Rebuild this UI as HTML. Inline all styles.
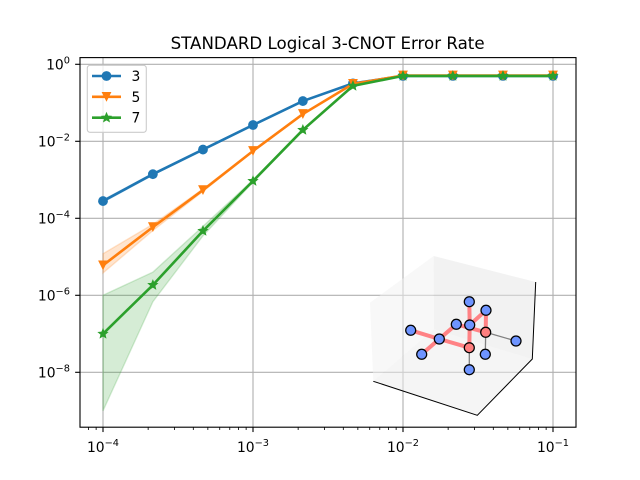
<!DOCTYPE html>
<html>
<head>
<meta charset="utf-8">
<title>STANDARD Logical 3-CNOT Error Rate</title>
<style>
html,body{margin:0;padding:0;background:#fff;}
svg{display:block;font-family:"DejaVu Sans","Liberation Sans",sans-serif;}
</style>
</head>
<body>
<svg id="chart" width="640" height="480" viewBox="0 0 640 480" xmlns="http://www.w3.org/2000/svg">
  <rect x="0" y="0" width="640" height="480" fill="#fff"/>
  <text x="327.6" y="49" font-size="16.67" text-anchor="middle" fill="#000">STANDARD Logical 3-CNOT Error Rate</text>
  <g id="grid"></g>
  <g id="series"></g>
  <rect x="80" y="57.6" width="496" height="369.6" fill="none" stroke="#000" stroke-width="1.11"/>
  <g id="ticks"></g>
  <g id="legend"></g>

  <g>
    <polygon points="370,302.7 433.7,256 434,329.3 373.3,381.3" fill="rgb(242,242,242)" fill-opacity="0.5"/>
    <polygon points="433.7,256 535.7,282 532.3,359 434,329.3" fill="rgb(230,230,230)" fill-opacity="0.5"/>
    <polygon points="373.3,381.3 434,329.3 532.3,359 477.3,415.3" fill="rgb(236,236,236)" fill-opacity="0.5"/>
    <polyline points="373.3,381.3 477.3,415.3 532.3,359 535.7,282" fill="none" stroke="#000" stroke-width="1"/>
    <g stroke="#808080" stroke-width="1.3" fill="none">
      <line x1="485.7" y1="332.3" x2="516" y2="341"/>
      <line x1="485.7" y1="332.3" x2="485.3" y2="354.3"/>
      <line x1="469.3" y1="347.7" x2="469.3" y2="369.7"/>
    </g>
    <g stroke="#ff8285" stroke-width="4" fill="none">
      <line x1="410.7" y1="330.3" x2="439.3" y2="339"/>
      <line x1="439.3" y1="339" x2="469.3" y2="347.7"/>
      <line x1="421.7" y1="354.3" x2="439.3" y2="339"/>
      <line x1="439.3" y1="339" x2="456.3" y2="324.3"/>
      <line x1="456.3" y1="324.3" x2="485.7" y2="332.3"/>
      <line x1="469.3" y1="301.7" x2="469.7" y2="325"/>
      <line x1="469.7" y1="325" x2="469.3" y2="347.7"/>
      <line x1="469.7" y1="325" x2="486" y2="310.3"/>
      <line x1="486" y1="310.3" x2="485.7" y2="332.3"/>
    </g>
    <g stroke="#000" stroke-width="1.25" fill="#6e94ff">
      <circle cx="469.3" cy="369.7" r="5"/>
      <circle cx="485.3" cy="354.3" r="5"/>
      <circle cx="516" cy="341" r="5"/>
      <circle cx="421.7" cy="354.3" r="5"/>
      <circle cx="410.7" cy="330.3" r="5"/>
      <circle cx="439.3" cy="339" r="5"/>
      <circle cx="456.3" cy="324.3" r="5"/>
      <circle cx="469.3" cy="301.7" r="5"/>
      <circle cx="486" cy="310.3" r="5"/>
      <circle cx="469.3" cy="347.7" r="5" fill="#ff7f7f"/>
      <circle cx="469.7" cy="325" r="5"/>
      <circle cx="485.7" cy="332.3" r="5" fill="#ff7f7f"/>
    </g>
  </g>
</svg>
<script>
const errorRates = [1e-4, 2.15e-4, 4.64e-4, 1e-3, 2.15e-3, 4.64e-3, 1e-2, 2.15e-2, 4.64e-2, 1e-1];
const seriesLabels = ['3', '5', '7'];
const values3 = [2.8e-4, 1.4e-3, 6.1e-3, 2.65e-2, 0.111, 0.32, 0.5, 0.5, 0.5, 0.5];
const lower3 = [2.6e-4, 1.33e-3, 5.9e-3, 2.6e-2, 0.109, 0.31, 0.49, 0.49, 0.49, 0.49];
const upper3 = [3.0e-4, 1.47e-3, 6.3e-3, 2.7e-2, 0.113, 0.33, 0.51, 0.51, 0.51, 0.51];
const values5 = [6e-6, 5.9e-5, 5.4e-4, 5.6e-3, 5.1e-2, 0.31, 0.51, 0.51, 0.51, 0.51];
const lower5 = [3.8e-6, 4.8e-5, 5.0e-4, 5.4e-3, 5.0e-2, 0.30, 0.50, 0.50, 0.50, 0.50];
const upper5 = [1.2e-5, 7.0e-5, 5.8e-4, 5.8e-3, 5.2e-2, 0.32, 0.52, 0.52, 0.52, 0.52];
const values7 = [1e-7, 1.85e-6, 4.7e-5, 9.3e-4, 1.97e-2, 0.275, 0.5, 0.5, 0.5, 0.5];
const lower7 = [1e-9, 6.8e-7, 3.5e-5, 8.7e-4, 1.9e-2, 0.27, 0.49, 0.49, 0.49, 0.49];
const upper7 = [1e-6, 4e-6, 6.2e-5, 9.9e-4, 2.05e-2, 0.28, 0.51, 0.51, 0.51, 0.51];
const xTickExponents = [-4, -3, -2, -1];
const yTickExponents = [0, -2, -4, -6, -8];
const xMinorMultipliers = [2, 3, 4, 5, 6, 7, 8, 9];
const xMinorDecades = [-5, -4, -3, -2, -1];

const NS = 'http://www.w3.org/2000/svg';
const AX = {left: 80, right: 576, top: 57.6, bottom: 427.2};
function xScale(v) { return 103 + (Math.log10(v) + 4) * 150; }
function yScale(v) { return 64.3 - Math.log10(v) * 38.5; }
function mk(tag, attrs, parent) {
  const el = document.createElementNS(NS, tag);
  for (const k in attrs) el.setAttribute(k, attrs[k]);
  parent.appendChild(el);
  return el;
}
function pts(xs, ys) { return xs.map((x, i) => xScale(x).toFixed(2) + ',' + yScale(ys[i]).toFixed(2)).join(' '); }

function drawMarker(kind, cx, cy, color, parent) {
  const r = 4.9;
  let el;
  if (kind === 'circle') {
    el = mk('circle', {cx: cx, cy: cy, r: r, fill: color}, parent);
  } else if (kind === 'triangle') {
    el = mk('polygon', {points: (cx - r) + ',' + (cy - r) + ' ' + (cx + r) + ',' + (cy - r) + ' ' + cx + ',' + (cy + r), fill: color}, parent);
  } else {
    const p = [];
    for (let i = 0; i < 10; i++) {
      const rad = i % 2 === 0 ? r : r * 0.45;
      const a = -Math.PI / 2 + i * Math.PI / 5;
      p.push((cx + rad * Math.cos(a)).toFixed(2) + ',' + (cy + rad * Math.sin(a)).toFixed(2));
    }
    el = mk('polygon', {points: p.join(' '), fill: color, stroke: color, 'stroke-width': 0.8}, parent);
  }
  return el;
}

const gridG = document.getElementById('grid');
const ticksG = document.getElementById('ticks');
const seriesG = document.getElementById('series');
const legendG = document.getElementById('legend');

xTickExponents.forEach(function (e) {
  const x = xScale(Math.pow(10, e));
  const line = mk('line', {x1: x, x2: x, y1: AX.top, y2: AX.bottom, stroke: '#b0b0b0', 'stroke-width': 1.11}, gridG);
  
  
  const tick = mk('line', {x1: x, x2: x, y1: AX.bottom, y2: AX.bottom + 4.86, stroke: '#000', 'stroke-width': 1.11}, ticksG);
  
  
  const label = mk('text', {x: x, y: 452, 'font-size': 13.89, 'text-anchor': 'middle', fill: '#000'}, ticksG);
  
  
  const base = mk('tspan', {}, label);
  base.textContent = '10';
  const sup = mk('tspan', {'font-size': 9.8, dy: -5.8}, label);
  sup.textContent = '\u2212' + Math.abs(e);
});

xMinorDecades.forEach(function (d) {
  xMinorMultipliers.forEach(function (m) {
    const x = xScale(m * Math.pow(10, d));
    if (x < AX.left || x > AX.right) return;
    const tick = mk('line', {x1: x, x2: x, y1: AX.bottom, y2: AX.bottom + 2.78, stroke: '#000', 'stroke-width': 0.83}, ticksG);
    
    
  });
});

yTickExponents.forEach(function (e) {
  const y = yScale(Math.pow(10, e));
  const line = mk('line', {x1: AX.left, x2: AX.right, y1: y, y2: y, stroke: '#b0b0b0', 'stroke-width': 1.11}, gridG);
  
  
  const tick = mk('line', {x1: AX.left - 4.86, x2: AX.left, y1: y, y2: y, stroke: '#000', 'stroke-width': 1.11}, ticksG);
  
  
  const label = mk('text', {x: 70, y: y + 5, 'font-size': 13.89, 'text-anchor': 'end', fill: '#000'}, ticksG);
  
  
  const base = mk('tspan', {}, label);
  base.textContent = '10';
  const sup = mk('tspan', {'font-size': 9.8, dy: -5.8}, label);
  sup.textContent = (e < 0 ? '\u2212' : '') + Math.abs(e);
});

const seriesDefs = [
  {label: seriesLabels[0], vals: values3, lo: lower3, hi: upper3, color: '#1f77b4', marker: 'circle'},
  {label: seriesLabels[1], vals: values5, lo: lower5, hi: upper5, color: '#ff7f0e', marker: 'triangle'},
  {label: seriesLabels[2], vals: values7, lo: lower7, hi: upper7, color: '#2ca02c', marker: 'star'}
];

seriesDefs.forEach(function (s) {
  const band = mk('polygon', {
    points: pts(errorRates, s.hi) + ' ' + pts(errorRates.slice().reverse(), s.lo.slice().reverse()),
    fill: s.color, 'fill-opacity': 0.2, stroke: s.color, 'stroke-opacity': 0.2, 'stroke-width': 1.4
  }, seriesG);
  
  
  const line = mk('polyline', {points: pts(errorRates, s.vals), fill: 'none', stroke: s.color, 'stroke-width': 2.6, 'stroke-linejoin': 'round'}, seriesG);
  
  
  errorRates.forEach(function (x, i) {
    const m = drawMarker(s.marker, xScale(x), yScale(s.vals[i]), s.color, seriesG);
    
    
  });
});

const legendBox = mk('rect', {x: 87.3, y: 65.3, width: 59, height: 67, rx: 2.8, ry: 2.8, fill: '#fff', 'fill-opacity': 0.8, stroke: '#cccccc', 'stroke-width': 1.11}, legendG);


seriesDefs.forEach(function (s, i) {
  const y = 76 + i * 20.85;
  const line = mk('line', {x1: 92, x2: 121, y1: y, y2: y, stroke: s.color, 'stroke-width': 2.6}, legendG);
  
  
  const m = drawMarker(s.marker, 106.5, y, s.color, legendG);
  
  
  const t = mk('text', {x: 131.5, y: y + 5, 'font-size': 13.89, fill: '#000'}, legendG);
  
  
  t.textContent = s.label;
});
</script>
</body>
</html>
